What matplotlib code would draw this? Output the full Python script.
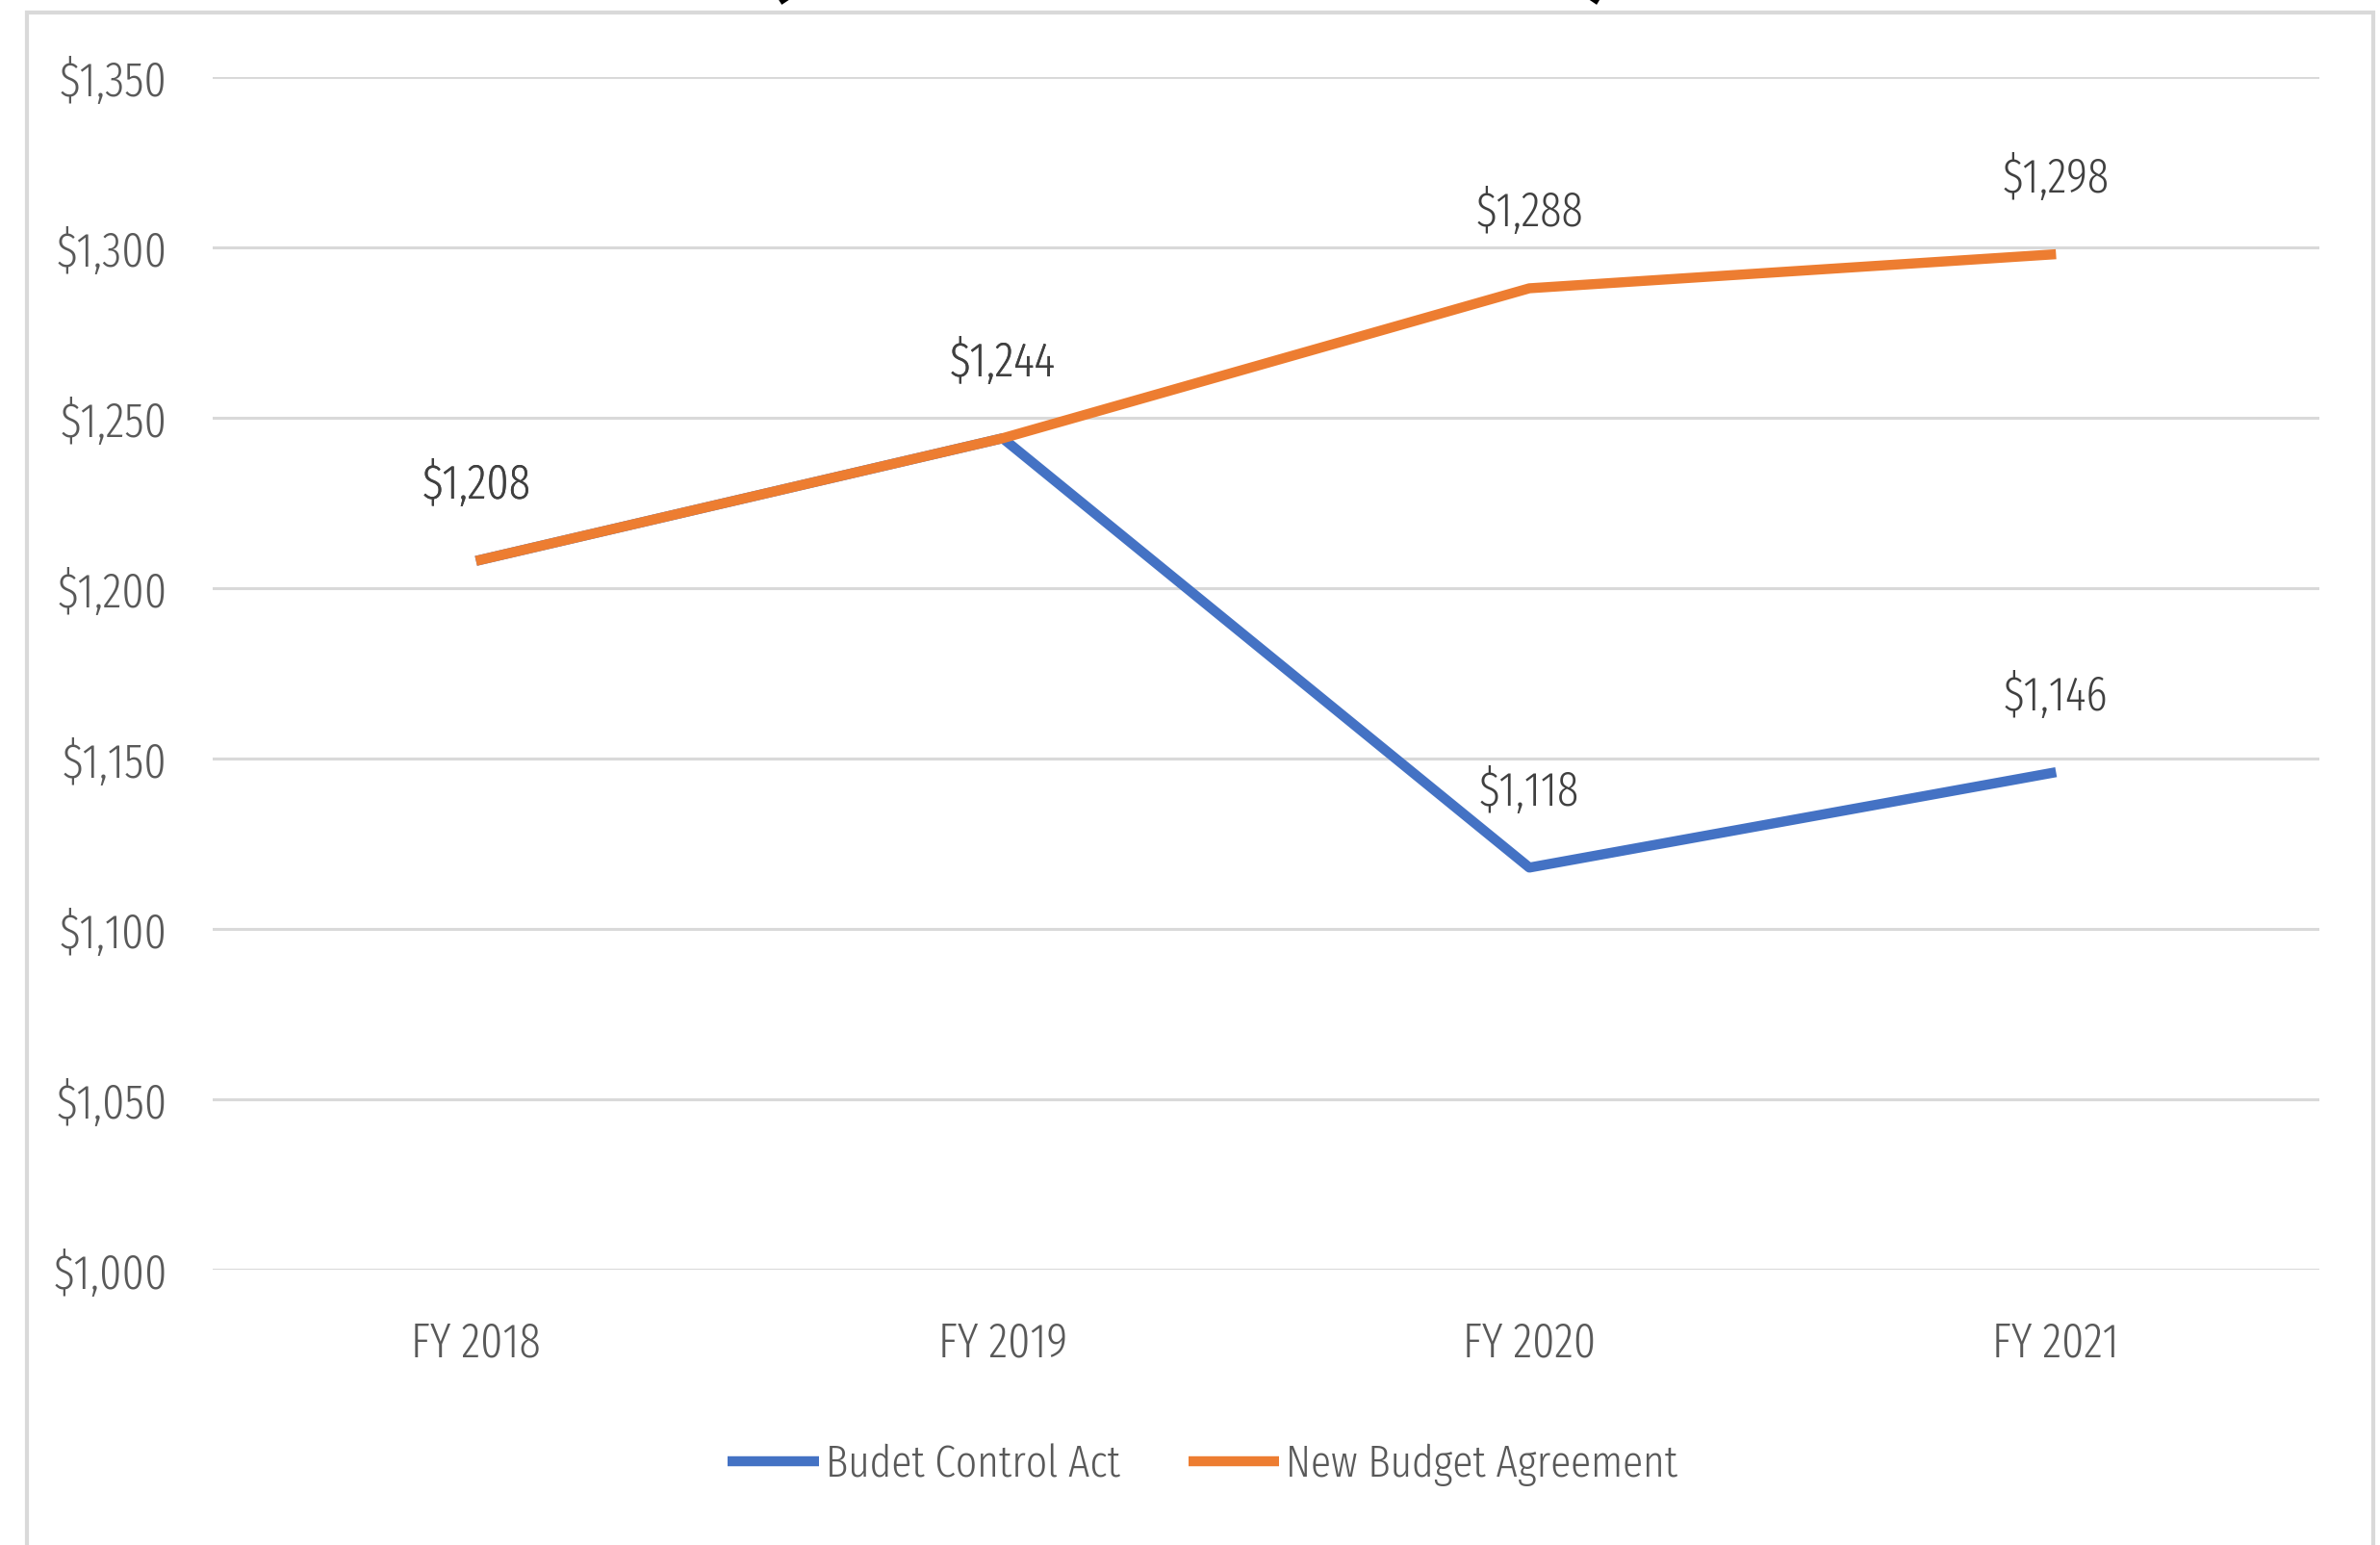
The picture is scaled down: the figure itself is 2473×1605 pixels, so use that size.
import matplotlib
matplotlib.use("Agg")
import matplotlib.pyplot as plt
from matplotlib.patches import Rectangle

# data
years = ["FY 2018", "FY 2019", "FY 2020", "FY 2021"]
bca = [1208, 1244, 1118, 1146]
nba = [1208, 1244, 1288, 1298]
series_names = ["Budet Control Act", "New Budget Agreement"]
title = "(In Billions of Dollars)"

FONT = ["Fira Sans Extra Condensed", "DejaVu Sans"]
plt.rcParams["font.family"] = FONT
plt.rcParams["font.weight"] = 300

W, H = 2473, 1605
fig = plt.figure(figsize=(W / 100, H / 100), dpi=100)

# outer chart border (bottom runs off the picture)
fig.patches.append(Rectangle((28 / W, -0.05), (2466 - 28) / W, 1.05 - 13 / H,
                             transform=fig.transFigure, fill=False,
                             edgecolor="#d9d9d9", linewidth=3))

# title, mostly above the top edge
fig.text(0.4995, 1 + 12 / H, title, ha="center", va="baseline",
         fontsize=77, fontweight="bold", color="black")

ax = fig.add_axes([221 / W, 1 - 1319 / H, (2410 - 221) / W, (1319 - 80) / H])
x = list(range(len(years)))
ax.plot(x, bca, color="#4472c4", lw=7.5, solid_capstyle="butt",
        solid_joinstyle="round", label=series_names[0], zorder=3)
ax.plot(x, nba, color="#ed7d31", lw=7.5, solid_capstyle="butt",
        solid_joinstyle="round", label=series_names[1], zorder=4)

for vals in (bca, nba):
    for xi, v in zip(x, vals):
        ax.annotate(f"${v:,}", (xi, v), xytext=(0, 57), textcoords="offset points",
                    ha="center", va="center", fontsize=36, color="#404040", zorder=5)

ax.set_xlim(-0.5, 3.5)
ax.set_ylim(1000, 1350)
ax.set_yticks(range(1000, 1351, 50))
ax.set_yticklabels([f"${v:,}" for v in range(1000, 1351, 50)])
ax.set_xticks(x)
ax.set_xticklabels(years)
ax.tick_params(axis="both", length=0, labelsize=36, labelcolor="#595959")
ax.tick_params(axis="y", pad=34)
ax.tick_params(axis="x", pad=38)
ax.grid(axis="y", color="#d9d9d9", linewidth=2.2)
ax.set_axisbelow(True)
for s in ax.spines.values():
    s.set_visible(False)

fig.legend(loc="center", bbox_to_anchor=(1250 / W, 1 - 1522 / H), ncol=2,
           frameon=False, fontsize=34, labelcolor="#595959",
           handlelength=2.0, handletextpad=0.15, columnspacing=1.5)

fig.savefig("out.png", dpi=100)
